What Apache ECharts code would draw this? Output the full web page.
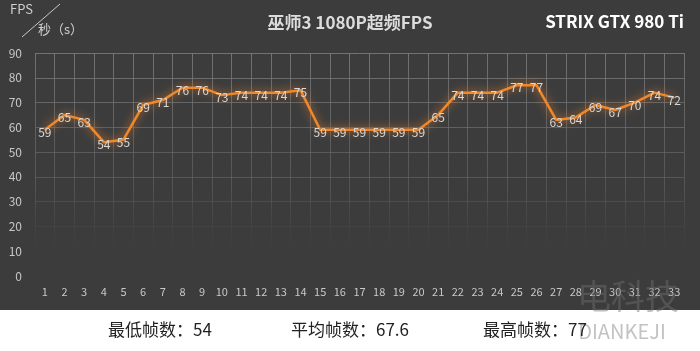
<!DOCTYPE html>
<html>
<head>
<meta charset="utf-8">
<script src="https://cdn.jsdelivr.net/npm/echarts@6/dist/echarts.min.js"></script>
<style>
  html, body { margin: 0; padding: 0; background: #fff; }
  #main { width: 700px; height: 351px; }
</style>
</head>
<body>
<div id="main"></div>
<script>
// 数据
var seconds = [];
for (var i = 1; i <= 33; i++) seconds.push(String(i));
var fps = [59, 65, 63, 54, 55, 69, 71, 76, 76, 73, 74, 74, 74, 75, 59, 59, 59, 59, 59, 59,
           65, 74, 74, 74, 77, 77, 63, 64, 69, 67, 70, 74, 72];
var statNames = ['最低帧数：54', '平均帧数：67.6', '最高帧数：77'];
var statX = [160, 350, 535];

var font = '"Noto Sans CJK SC", "Open Sans", sans-serif';
var myChart = echarts.init(document.getElementById('main'));

var fade = {
    type: 'linear', x: 0, y: 53, x2: 0, y2: 276, global: true,
    colorStops: [
        {offset: 0, color: 'rgba(120,120,120,0.9)'},
        {offset: 0.6, color: 'rgba(100,100,100,0.6)'},
        {offset: 0.9, color: 'rgba(80,80,80,0)'},
        {offset: 1, color: 'rgba(80,80,80,0)'}
    ]
};

var bottomTexts = statNames.map(function (t, i) {
    return {
        type: 'text', x: statX[i], y: 330, z: 101,
        style: {text: t, fill: '#222', font: '17px ' + font, textAlign: 'center', textVerticalAlign: 'middle'}
    };
});

var option = {
    backgroundColor: '#3c3c3c',
    animation: false,
    title: {
        text: '巫师3 1080P超频FPS',
        left: 'center',
        top: 9,
        textStyle: {color: '#dcdcdc', fontSize: 17, fontWeight: 'bold', fontFamily: font}
    },
    grid: {left: 35, right: 16, top: 53, bottom: 75},
    xAxis: {
        type: 'category',
        data: seconds,
        boundaryGap: true,
        axisLine: {show: false},
        axisTick: {show: false},
        axisLabel: {color: '#c8c8c8', fontSize: 11, margin: 10, interval: 0, fontFamily: font},
        splitLine: {show: true, interval: 0, lineStyle: {color: fade, width: 1}}
    },
    yAxis: {
        type: 'value',
        min: 0,
        max: 90,
        interval: 10,
        axisLine: {show: false},
        axisTick: {show: false},
        axisLabel: {color: '#c8c8c8', fontSize: 12, margin: 13, fontFamily: font},
        splitLine: {lineStyle: {color: fade, width: 1}}
    },
    series: [{
        type: 'line',
        data: fps,
        symbol: 'circle',
        symbolSize: 1,
        showAllSymbol: true,
        itemStyle: {color: '#f0882a'},
        lineStyle: {color: '#f0882a', width: 2.5, shadowColor: 'rgba(240,130,40,0.9)', shadowBlur: 8},
        label: {
            show: true,
            position: 'top',
            distance: 0,
            offset: [0, 9],
            color: '#d8d8d8',
            fontSize: 12,
            fontFamily: font
        }
    }],
    graphic: [
        {type: 'rect', shape: {x: 0, y: 310, width: 700, height: 41}, style: {fill: '#ffffff'}, z: 100},
        {type: 'text', x: 10, y: 3, style: {text: 'FPS', fill: '#d0d0d0', font: '13px ' + font}},
        {type: 'line', shape: {x1: 22, y1: 37, x2: 60, y2: 4}, style: {stroke: '#c8c8c8', lineWidth: 1}},
        {type: 'text', x: 38, y: 23, style: {text: '秒（s）', fill: '#d0d0d0', font: '13px ' + font}},
        {type: 'text', x: 684, y: 22, style: {text: 'STRIX GTX 980 Ti', fill: '#ffffff', font: 'bold 17px ' + font, textAlign: 'right', textVerticalAlign: 'middle'}},
        {type: 'text', x: 628, y: 296, z: 101, style: {text: '电科技', fill: 'rgba(110,110,110,0.45)', font: '34px ' + font, textAlign: 'center', textVerticalAlign: 'middle'}},
        {type: 'text', x: 622, y: 331, z: 101, style: {text: 'DIANKEJI', fill: 'rgba(120,120,120,0.45)', font: '20px ' + font, textAlign: 'center', textVerticalAlign: 'middle'}}
    ].concat(bottomTexts)
};

myChart.setOption(option);
</script>
</body>
</html>
